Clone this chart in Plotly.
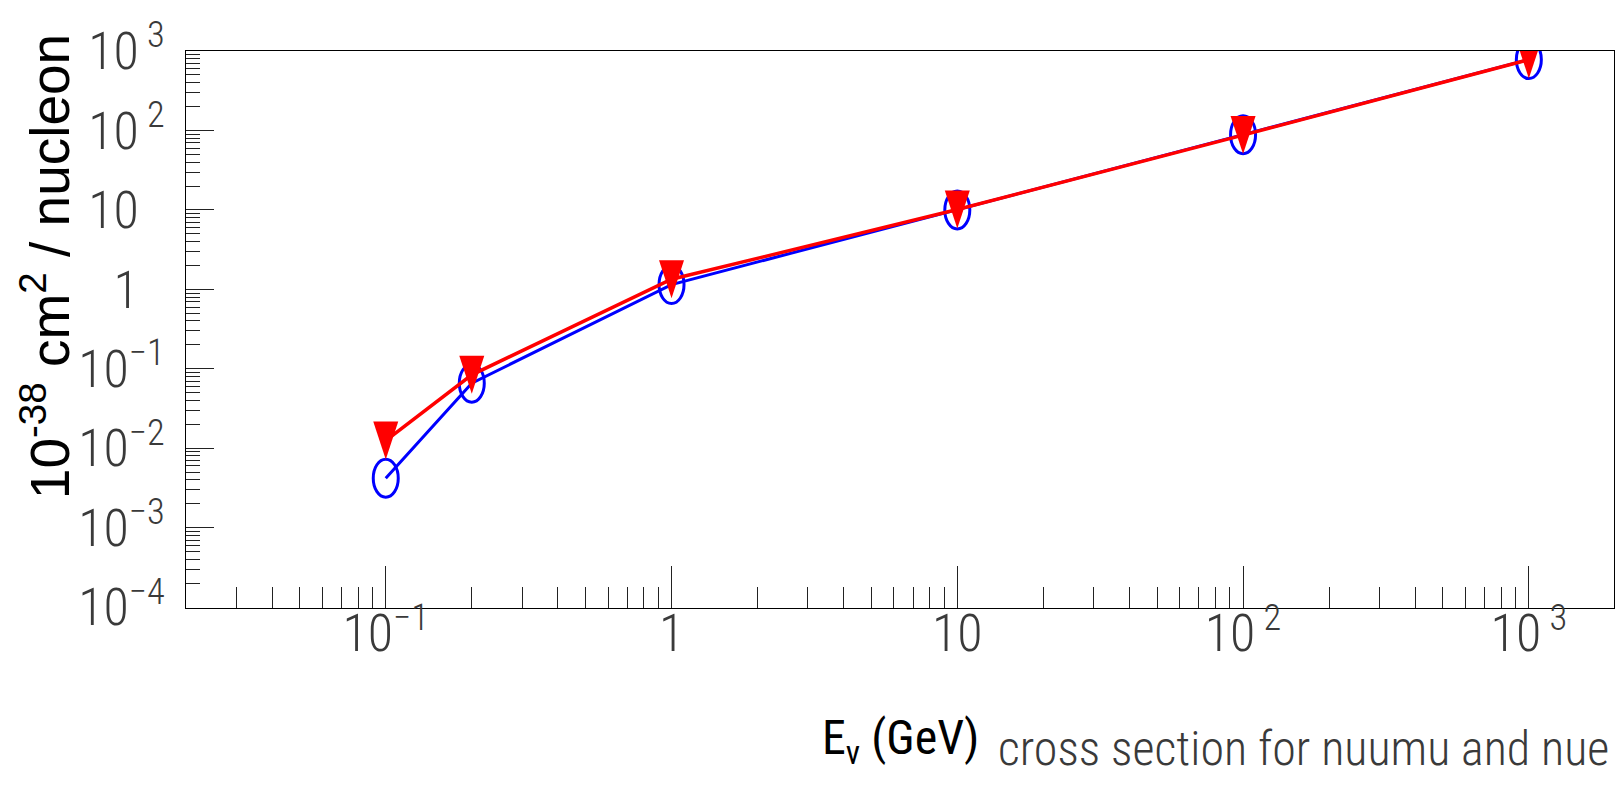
import plotly.graph_objects as go

# Neutrino energy (GeV) and cross sections (1e-38 cm^2 / nucleon)
energy_gev = [0.1, 0.2, 1, 10, 100, 1000]
xsec_numu = [0.0042, 0.066, 1.15, 10.0, 88.5, 780.0]
xsec_nue = [0.0125, 0.084, 1.34, 10.1, 87.5, 780.0]

# Axis tick values and labels
x_tickvals = [0.1, 1, 10, 100, 1000]
x_ticktext = ["10<sup>\u22121</sup>", "1", "10", "10<sup> 2</sup>", "10<sup> 3</sup>"]
y_tickvals = [1e-4, 1e-3, 1e-2, 1e-1, 1, 10, 100, 1000]
PAD = '<span style="color:rgba(0,0,0,0)"><sup> 2</sup></span>'
y_ticktext = ["10<sup>\u22124</sup>", "10<sup>\u22123</sup>", "10<sup>\u22122</sup>",
              "10<sup>\u22121</sup>", "1" + PAD, "10" + PAD,
              "10<sup> 2</sup>", "10<sup> 3</sup>"]

x_minor = [m * 10.0 ** d for d in range(-2, 4) for m in range(2, 10)]
y_minor = [m * 10.0 ** d for d in range(-4, 3) for m in range(2, 10)]

LABEL_FONT = dict(family="Roboto Condensed, Liberation Sans Narrow, sans-serif",
                  size=52, color="#3a3a3a", weight=300)
TITLE_FONT = dict(family="Liberation Sans, Arial, sans-serif", size=55, color="black")
XTITLE_FONT = dict(family="Roboto Condensed, Liberation Sans Narrow, sans-serif",
                   size=48, color="black", weight=400)

BLUE = "#0000ff"
RED = "#ff0000"

# Marker outlines in pixels around each data point
RX, RY = 12.5, 19.0
K = 0.5523
ELLIPSE = (f"M {RX} 0 C {RX} {K*RY} {K*RX} {RY} 0 {RY} "
           f"C {-K*RX} {RY} {-RX} {K*RY} {-RX} 0 "
           f"C {-RX} {-K*RY} {-K*RX} {-RY} 0 {-RY} "
           f"C {K*RX} {-RY} {RX} {-K*RY} {RX} 0 Z")
TRIANGLE_DOWN = f"M {-RX} {RY} L {RX} {RY} L 0 {-RY} Z"

fig = go.Figure()
fig.add_trace(go.Scatter(x=energy_gev, y=xsec_numu, mode="lines",
                         line=dict(color=BLUE, width=3), showlegend=False))
fig.add_trace(go.Scatter(x=energy_gev, y=xsec_nue, mode="lines",
                         line=dict(color=RED, width=3.5), showlegend=False))

# Open elliptical markers for the muon-neutrino series
for xv, yv in zip(energy_gev, xsec_numu):
    fig.add_shape(type="path", xref="x", yref="y",
                  xsizemode="pixel", ysizemode="pixel",
                  xanchor=xv, yanchor=yv, path=ELLIPSE,
                  line=dict(color=BLUE, width=3), fillcolor="rgba(0,0,0,0)",
                  layer="below")

# Filled downward triangles for the electron-neutrino series
for xv, yv in zip(energy_gev, xsec_nue):
    fig.add_shape(type="path", xref="x", yref="y",
                  xsizemode="pixel", ysizemode="pixel",
                  xanchor=xv, yanchor=yv, path=TRIANGLE_DOWN,
                  line=dict(color=RED, width=0), fillcolor=RED,
                  layer="above")

axis_common = dict(
    type="log", showgrid=False, zeroline=False,
    showline=True, linecolor="black", linewidth=1, mirror=True,
    ticks="inside", tickcolor="#222222", tickwidth=1,
    tickmode="array", tickfont=LABEL_FONT,
)

fig.update_xaxes(**axis_common, range=[-1.699, 3.298],
                 tickvals=x_tickvals, ticktext=x_ticktext, ticklen=42,
                 ticklabelstandoff=-20,
                 minor=dict(tickmode="array", tickvals=x_minor, ticks="inside",
                            ticklen=21, tickcolor="#222222", tickwidth=1, showgrid=False))
fig.update_yaxes(**axis_common, range=[-4.01, 3.0],
                 tickvals=y_tickvals, ticktext=y_ticktext, ticklen=28,
                 ticklabelstandoff=10,
                 minor=dict(tickmode="array", tickvals=y_minor, ticks="inside",
                            ticklen=14, tickcolor="#222222", tickwidth=1, showgrid=False))

fig.add_annotation(text="10<sup>-38</sup> cm<sup>2</sup> / nucleon",
                   xref="paper", yref="paper", x=-0.098, y=0.612,
                   xanchor="center", yanchor="middle", textangle=-90,
                   showarrow=False, font=TITLE_FONT)
fig.add_annotation(text="E<sub>\u03bd</sub> (GeV)",
                   xref="paper", yref="paper", x=0.5, y=-0.238,
                   xanchor="center", yanchor="middle",
                   showarrow=False, font=XTITLE_FONT)
fig.add_annotation(text="cross section for nuumu and nue",
                   xref="paper", yref="paper", x=0.998, y=-0.252,
                   xanchor="right", yanchor="middle",
                   showarrow=False, font=dict(LABEL_FONT, size=48))

fig.update_layout(
    width=1618, height=786,
    margin=dict(l=186, r=4, t=51, b=178),
    paper_bgcolor="white", plot_bgcolor="white",
    showlegend=False,
)

fig.write_html("out.html")
